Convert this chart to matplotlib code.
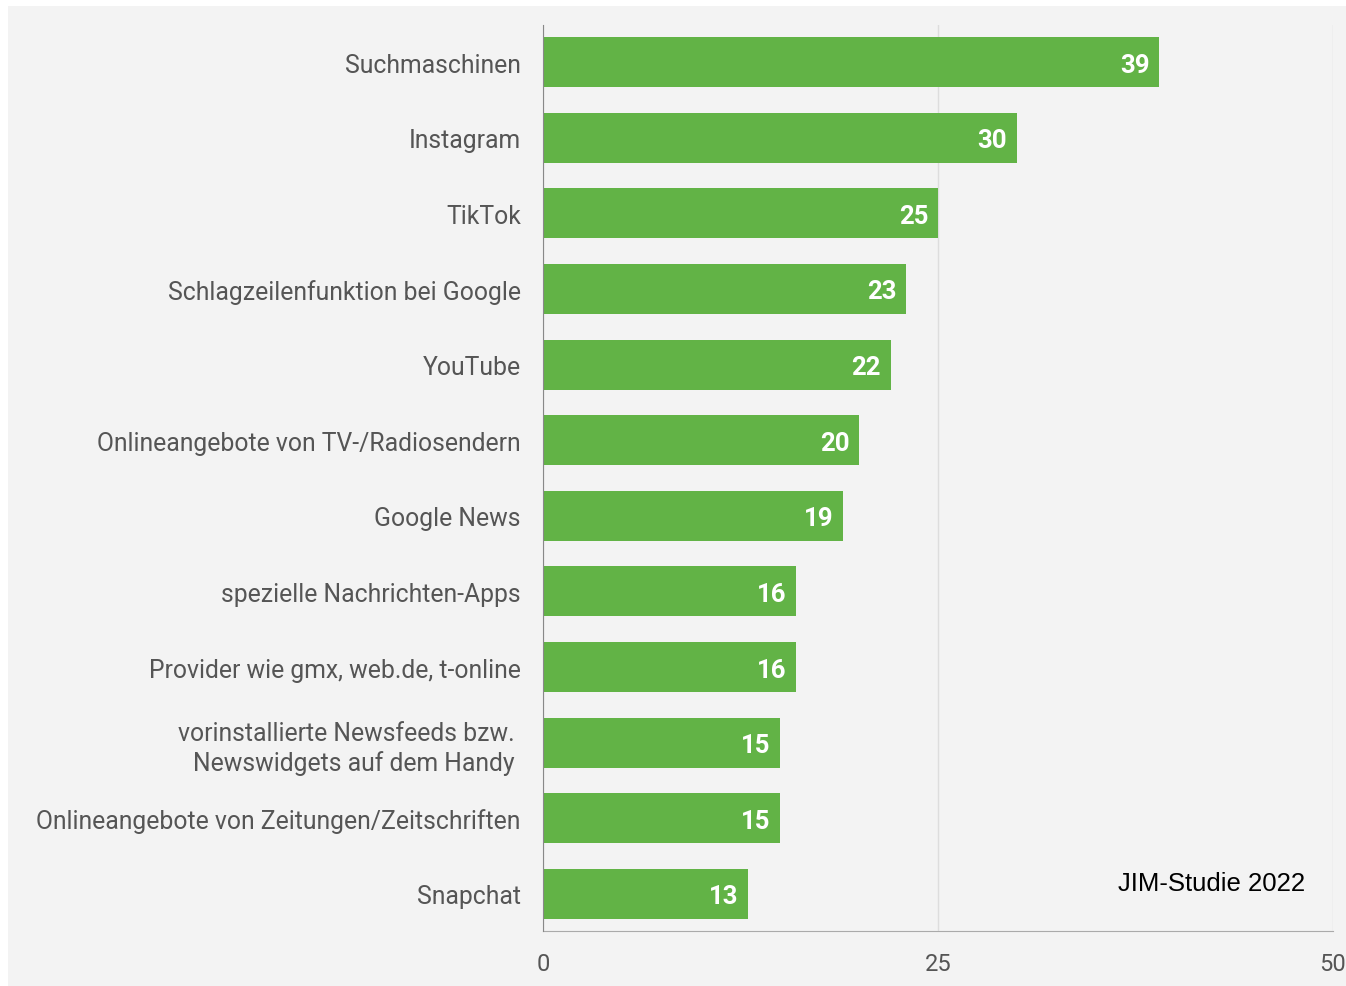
import matplotlib.pyplot as plt
import matplotlib.patches as mpatches

# ── Daten (JIM-Studie 2022) ───────────────────────────────────────────────
categories = [
    "Suchmaschinen",
    "Instagram",
    "TikTok",
    "Schlagzeilenfunktion bei Google",
    "YouTube",
    "Onlineangebote von TV-/Radiosendern",
    "Google News",
    "spezielle Nachrichten-Apps",
    "Provider wie gmx, web.de, t-online",
    "vorinstallierte Newsfeeds bzw. \nNewswidgets auf dem Handy ",
    "Onlineangebote von Zeitungen/Zeitschriften",
    "Snapchat",
]
values = [39, 30, 25, 23, 22, 20, 19, 16, 16, 15, 15, 13]
xticks = [0, 25, 50]

GREEN = "#62B346"
BG = "#F3F3F3"
TEXT = "#555555"
FONT = "Roboto"

fig = plt.figure(figsize=(13.46, 9.87), dpi=100)
fig.patch.set_facecolor(BG)
# weißer Rand oben und links
fig.patches.append(mpatches.Rectangle((0, 0), 8 / 1346, 1, transform=fig.transFigure,
                                      facecolor="white", edgecolor="none", zorder=-10))
fig.patches.append(mpatches.Rectangle((0, 1 - 7 / 987), 1, 7 / 987, transform=fig.transFigure,
                                      facecolor="white", edgecolor="none", zorder=-10))

ax = fig.add_axes([543 / 1346, 55 / 987, 790 / 1346, 906 / 987])
ax.set_facecolor(BG)
ax.set_zorder(1)

y = list(range(len(categories)))
bars = ax.barh(y, values, height=0.66, color=GREEN, zorder=3)

for yi, v in zip(y, values):
    ax.annotate(str(v), xy=(v, yi), xytext=(-7, 0), textcoords="offset points",
                ha="right", va="center_baseline", color="white", fontsize=18.5,
                fontweight="bold", family=FONT, zorder=4)

ax.set_xlim(0, 50)
ax.set_ylim(len(categories) - 0.51, -0.49)
ax.set_yticks(y)
ax.set_yticklabels(categories, fontsize=17.8, color=TEXT, family=FONT,
                   linespacing=1.25)
for lbl in ax.get_yticklabels():
    lbl.set_multialignment("right")
ax.set_xticks(xticks)
ax.set_xticklabels([str(t) for t in xticks], fontsize=17, color=TEXT, family=FONT)
ax.tick_params(axis="y", length=0, pad=16)
ax.tick_params(axis="x", length=0, pad=15)

ax.grid(axis="x", color="#DDDDDD", linewidth=1, zorder=1)
for side in ["top", "right"]:
    ax.spines[side].set_visible(False)
ax.spines["left"].set_color("#888888")
ax.spines["bottom"].set_color("#AAAAAA")
ax.spines["left"].set_zorder(5)

fig.text(1305 / 1346, 1 - 884 / 987, "JIM-Studie 2022", ha="right", va="center",
         fontsize=18.5, family="Liberation Sans", color="black", zorder=5)

fig.savefig("out.png", dpi=100, facecolor=fig.get_facecolor())
